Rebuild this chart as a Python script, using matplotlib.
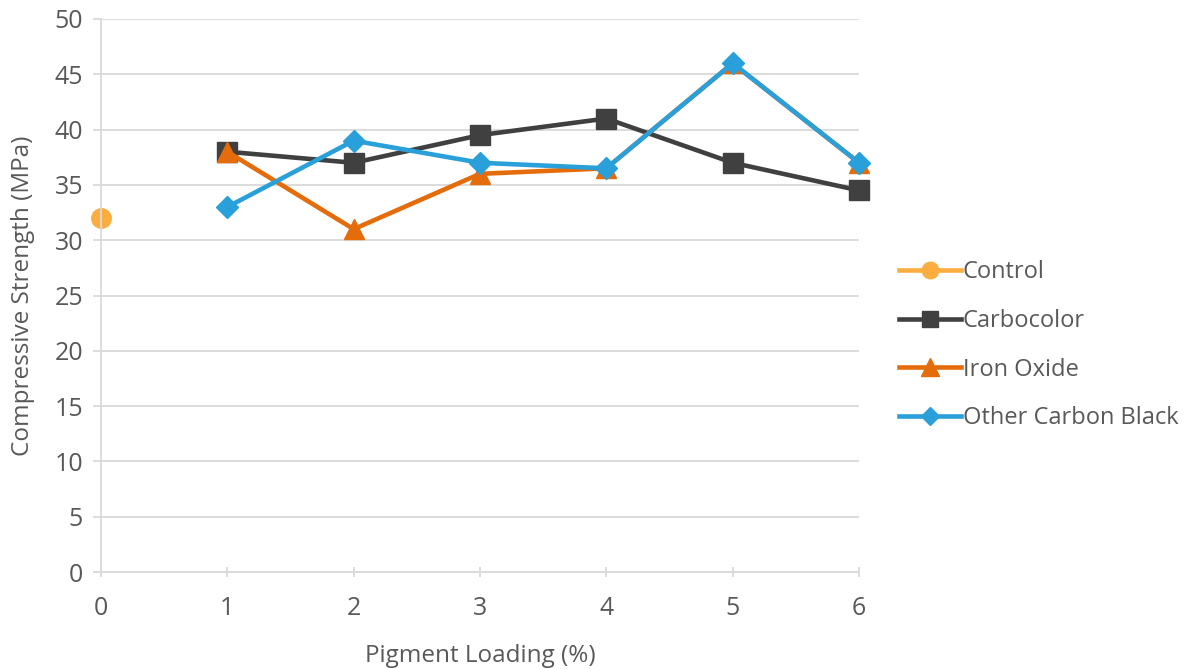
import matplotlib.pyplot as plt
import numpy as np

plt.rcParams['font.family'] = ['Open Sans', 'DejaVu Sans']

# compressive strength vs pigment loading
control_x = [0]
control_y = [32]
loading = [1, 2, 3, 4, 5, 6]
carbocolor = [38, 37, 39.5, 41, 37, 34.5]
iron_oxide = [38, 31, 36, 36.5, 46, 37]
other_black = [33, 39, 37, 36.5, 46, 37]

grey = '#595959'
grid = '#d9d9d9'

fig = plt.figure(figsize=(12.01, 6.69), dpi=100)
ax = fig.add_axes([101 / 1201, 97 / 669, 758 / 1201, 553 / 669])

ax.plot(control_x, control_y, color='#fbad3f', lw=3.3, marker='o', ms=14, label='Control', clip_on=False)
ax.plot(loading, carbocolor, color='#404040', lw=3.3, marker='s', ms=14, label='Carbocolor', clip_on=False)
ax.plot(loading, iron_oxide, color='#e46c0a', lw=3.3, marker='^', ms=15, label='Iron Oxide', clip_on=False)
ax.plot(loading, other_black, color='#29a0da', lw=3.3, marker='D', ms=11, label='Other Carbon Black', clip_on=False)

ax.set_xlim(0, 6)
ax.set_ylim(0, 50)
ax.set_xticks(np.arange(0, 7, 1))
ax.set_yticks(np.arange(0, 51, 5))
ax.yaxis.grid(True, color=grid, lw=1.3)
ax.set_axisbelow(True)

for s in ['top', 'right']:
    ax.spines[s].set_visible(False)
for s in ['left', 'bottom']:
    ax.spines[s].set_color(grid)
    ax.spines[s].set_linewidth(1.3)

ax.tick_params(axis='y', colors=grey, labelsize=18, length=6, width=1.3, color=grid, pad=7)
ax.tick_params(axis='x', colors=grey, labelsize=18, length=7, width=1.3, color=grid, direction='inout', pad=14)

ax.set_xlabel('Pigment Loading (%)', color=grey, fontsize=17.5, labelpad=16)
ax.set_ylabel('Compressive Strength (MPa)', color=grey, fontsize=17.5, labelpad=14)

leg = ax.legend(loc='center left', bbox_to_anchor=(1.025, 0.41), frameon=False, fontsize=17,
                labelcolor=grey, handlelength=2.6, handletextpad=0.1, labelspacing=1.05,
                markerscale=0.85)

fig.savefig('out.png', dpi=100)
